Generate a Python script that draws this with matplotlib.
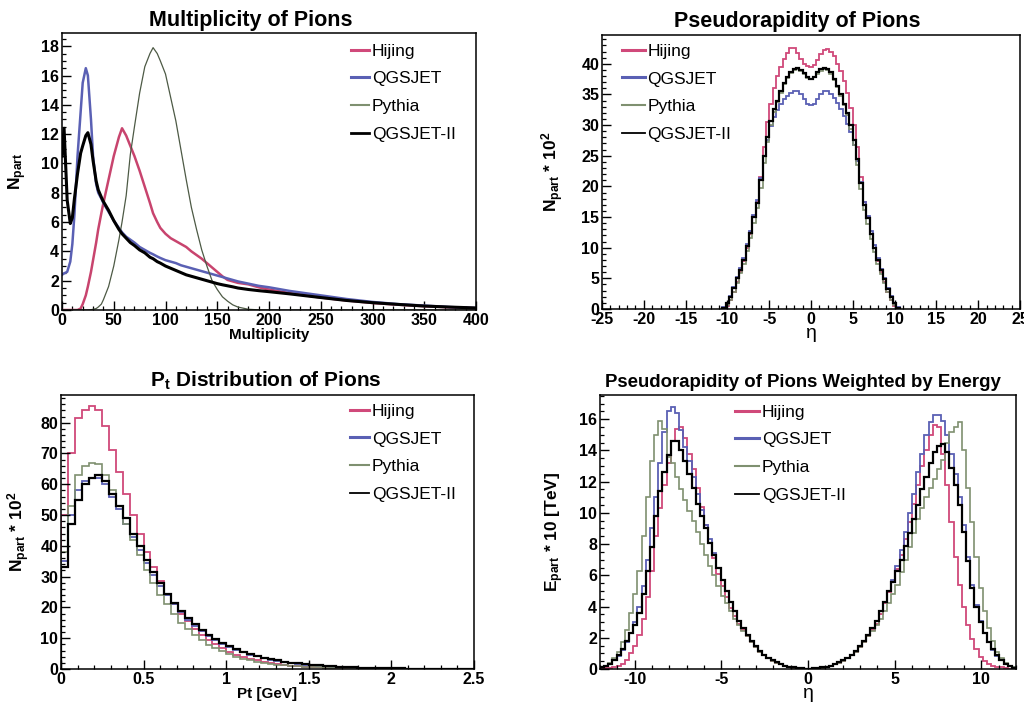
import numpy as np
import matplotlib
matplotlib.use("Agg")
import matplotlib.pyplot as plt
from matplotlib.ticker import MultipleLocator, FuncFormatter
from matplotlib.lines import Line2D

plt.rcParams.update({
    "font.family": ["Liberation Sans", "DejaVu Sans"],
    "axes.unicode_minus": False,
    "mathtext.fontset": "custom",
    "mathtext.rm": "Liberation Sans",
    "mathtext.bf": "Liberation Sans:bold",
    "mathtext.it": "Liberation Sans:italic",
})

labels = ["Hijing", "QGSJET", "Pythia", "QGSJET-II"]
colors = ["#d0497a", "#5a60b4", "#7f9070", "#000000"]

# ---------------- Panel 1 : multiplicity ----------------
mult_x = [0, 2, 5, 8, 10, 12, 15, 18, 20, 23, 25, 28, 30, 33, 35, 38, 40, 45, 50, 55,
          58, 62, 66, 70, 75, 80, 85, 88, 92, 95, 100, 105, 110, 115, 120, 125, 130, 135, 140, 145,
          150, 155, 160, 165, 170, 180, 190, 200, 220, 250, 275, 300, 325, 350, 375, 400]
mult_hijing = [0, 0, 0, 0, 0, 0, 0, 0.1, 0.4, 1.0, 1.6, 2.6, 3.4, 4.6, 5.5, 6.6, 7.3, 8.9, 10.5, 11.8,
               12.4, 11.9, 11.2, 10.5, 9.5, 8.4, 7.3, 6.6, 6.0, 5.6, 5.2, 4.9, 4.7, 4.5, 4.3, 4.0, 3.75, 3.5, 3.2, 2.9,
               2.6, 2.3, 2.05, 1.95, 1.85, 1.75, 1.55, 1.4, 1.15, 0.85, 0.65, 0.48, 0.36, 0.26, 0.18, 0.12]
mult_qgsjet = [2.4, 2.5, 2.6, 3.3, 4.5, 6.5, 10.5, 13.5, 15.5, 16.5, 16.0, 13.0, 10.5, 8.6, 8.0, 7.6, 7.3, 6.7, 6.1, 5.6,
               5.3, 5.0, 4.8, 4.6, 4.3, 4.1, 3.9, 3.8, 3.65, 3.55, 3.4, 3.3, 3.2, 3.05, 2.95, 2.85, 2.75, 2.65, 2.55, 2.45,
               2.35, 2.25, 2.15, 2.05, 1.95, 1.8, 1.65, 1.55, 1.3, 1.0, 0.75, 0.55, 0.4, 0.3, 0.2, 0.13]
mult_pythia = [0, 0, 0, 0, 0, 0, 0, 0, 0, 0, 0, 0.02, 0.05, 0.1, 0.2, 0.4, 0.7, 1.6, 3.0, 4.8,
               6.0, 7.8, 10.6, 12.5, 14.8, 16.6, 17.5, 17.9, 17.5, 17.0, 16.1, 14.5, 12.9, 10.9, 8.9, 7.0, 5.5, 4.1, 3.0, 2.0,
               1.4, 0.9, 0.6, 0.35, 0.2, 0.05, 0.01, 0, 0, 0, 0, 0, 0, 0, 0, 0]
mult_qgsjet2 = [10.5, 12.4, 7.5, 5.9, 6.3, 7.6, 9.3, 10.7, 11.2, 11.9, 12.1, 11.3, 10.2, 8.8, 8.2, 7.7, 7.4, 6.8, 6.1, 5.5,
                5.2, 4.9, 4.6, 4.4, 4.1, 3.9, 3.6, 3.5, 3.3, 3.2, 3.0, 2.85, 2.7, 2.55, 2.4, 2.3, 2.2, 2.1, 2.0, 1.9,
                1.8, 1.72, 1.65, 1.58, 1.5, 1.4, 1.32, 1.25, 1.1, 0.85, 0.65, 0.5, 0.38, 0.27, 0.2, 0.14]

# ---------------- Panel 2 : pseudorapidity (x10^2) ----------------
eta_lo, eta_hi, eta_nbins = -10.6, 10.6, 53
eta_hijing = [0.1, 0.5, 1.4, 2.8, 4.4, 6.0, 7.8, 10.0, 12.3, 15.0,
              17.5, 21.5, 26.5, 30.5, 33.5, 36.0, 38.0, 39.5, 40.8, 41.8,
              42.6, 42.5, 41.8, 40.8, 40.0, 39.6, 39.5, 39.8, 40.6, 41.6,
              42.2, 42.4, 42.0, 41.2, 40.0, 38.8, 37.2, 35.2, 32.8, 30.0,
              26.5, 21.5, 17.5, 15.0, 12.3, 10.0, 7.8, 6.0, 4.4, 2.8,
              1.4, 0.5, 0.1]
eta_qgsjet = [0.25, 1.0, 2.2, 3.6, 5.2, 6.7, 8.4, 10.6, 12.8, 15.4,
              17.8, 21.4, 25.0, 27.6, 29.8, 31.3, 32.4, 33.4, 34.2, 34.8,
              35.3, 35.6, 35.5, 35.0, 34.2, 33.5, 33.2, 33.5, 34.3, 35.0,
              35.5, 35.5, 35.1, 34.5, 33.6, 32.6, 31.5, 30.2, 28.8, 26.8,
              24.2, 20.8, 17.5, 15.2, 12.7, 10.4, 8.3, 6.6, 5.1, 3.5,
              2.2, 1.0, 0.25]
eta_pythia = [0.1, 0.6, 1.5, 2.8, 4.3, 5.8, 7.4, 9.4, 11.6, 14.0,
              16.5, 19.8, 23.8, 27.2, 30.0, 32.2, 33.8, 35.3, 36.7, 37.7,
              38.5, 39.0, 39.1, 38.8, 38.3, 37.7, 37.5, 37.8, 38.4, 38.9,
              39.1, 39.0, 38.4, 37.4, 36.2, 34.8, 33.2, 31.6, 29.4, 26.8,
              23.5, 19.5, 16.2, 13.8, 11.5, 9.3, 7.4, 5.7, 4.2, 2.8,
              1.5, 0.6, 0.1]
eta_qgsjet2 = [0.2, 0.9, 2.0, 3.4, 5.0, 6.4, 8.0, 10.2, 12.4, 15.0,
               17.3, 21.0, 25.0, 28.0, 30.6, 32.6, 34.0, 35.5, 36.8, 37.8,
               38.6, 39.2, 39.3, 39.0, 38.5, 37.8, 37.6, 37.9, 38.6, 39.1,
               39.3, 39.2, 38.6, 37.6, 36.4, 35.0, 33.5, 32.0, 30.0, 27.5,
               24.5, 20.5, 17.0, 14.8, 12.3, 10.0, 8.0, 6.3, 4.9, 3.3,
               2.0, 0.9, 0.2]

# ---------------- Panel 3 : Pt (x10^2) ----------------
pt_lo, pt_hi, pt_nbins = 0.0, 2.5, 60
pt_hijing = [50, 70, 81.5, 84, 85.5, 84, 79, 71, 64, 57,
             50, 44, 38, 33, 28.5, 24.5, 21, 18, 15.5, 13,
             11, 9.5, 8, 6.8, 5.6, 4.7, 3.9, 3.3, 2.8, 2.3,
             1.9, 1.6, 1.35, 1.1, 0.9, 0.75, 0.62, 0.5, 0.42, 0.35,
             0.28, 0.23, 0.19, 0.15, 0.12, 0.1, 0.08, 0.06, 0.05, 0.04,
             0.03, 0.03, 0.02, 0.02, 0.01, 0.01, 0.01, 0.01, 0.0, 0.0]
pt_qgsjet = [35, 50, 58, 61, 62, 62, 60, 56, 52, 47,
             43, 38.5, 34.5, 30.5, 27, 24, 21, 18.5, 16, 14,
             12.3, 10.8, 9.4, 8.2, 7.2, 6.2, 5.4, 4.7, 4.1, 3.5,
             3.0, 2.6, 2.2, 1.9, 1.6, 1.4, 1.2, 1.0, 0.85, 0.72,
             0.6, 0.5, 0.42, 0.35, 0.3, 0.25, 0.2, 0.17, 0.14, 0.12,
             0.1, 0.08, 0.07, 0.06, 0.05, 0.04, 0.03, 0.03, 0.02, 0.02]
pt_pythia = [38, 53, 63, 66, 67, 66.5, 63, 58, 53, 47,
             42, 37, 32, 28, 24, 21, 18, 15, 13, 11,
             9.3, 7.9, 6.7, 5.7, 4.8, 4.0, 3.4, 2.9, 2.4, 2.0,
             1.7, 1.4, 1.2, 1.0, 0.85, 0.7, 0.6, 0.5, 0.42, 0.35,
             0.3, 0.25, 0.2, 0.17, 0.14, 0.12, 0.1, 0.08, 0.07, 0.06,
             0.05, 0.04, 0.03, 0.03, 0.02, 0.02, 0.01, 0.01, 0.01, 0.01]
pt_qgsjet2 = [33, 47, 55, 60, 62, 63, 61, 57, 53, 49,
              44, 40, 35.5, 31.5, 28, 24.5, 21.5, 19, 16.5, 14.5,
              12.7, 11.1, 9.7, 8.5, 7.4, 6.4, 5.6, 4.9, 4.3, 3.7,
              3.2, 2.8, 2.4, 2.1, 1.8, 1.55, 1.35, 1.15, 1.0, 0.85,
              0.72, 0.62, 0.53, 0.45, 0.38, 0.32, 0.27, 0.23, 0.2, 0.17,
              0.14, 0.12, 0.1, 0.08, 0.07, 0.06, 0.05, 0.04, 0.03, 0.02]

# ---------------- Panel 4 : eta weighted by energy (x10 TeV) ----------------
ew_lo, ew_hi, ew_nbins = -12.0, 12.0, 100
ew_hijing_neg = [0.02, 0.05, 0.08, 0.12, 0.2, 0.35, 0.6, 1.0, 1.5, 2.2,
                 3.2, 4.6, 6.3, 8.5, 10.3, 11.8, 13.2, 14.6, 15.4, 15.5,
                 14.8, 13.8, 12.8, 11.6, 10.4, 9.2, 8.1, 7.1, 6.1, 5.3,
                 4.6, 3.9, 3.4, 2.9, 2.5, 2.1, 1.75, 1.4, 1.1, 0.88,
                 0.68, 0.52, 0.4, 0.29, 0.21, 0.14, 0.09, 0.06, 0.04, 0.03]
ew_hijing_pos = [0.03, 0.04, 0.06, 0.09, 0.14, 0.21, 0.29, 0.4, 0.52, 0.68,
                 0.88, 1.1, 1.4, 1.75, 2.1, 2.5, 2.9, 3.5, 4.2, 4.9,
                 5.6, 6.4, 7.3, 8.3, 9.4, 10.6, 11.8, 13.0, 14.0, 15.0,
                 15.6, 15.5, 13.8, 11.8, 9.4, 7.2, 5.4, 4.0, 2.8, 1.9,
                 1.25, 0.8, 0.5, 0.35, 0.22, 0.15, 0.1, 0.06, 0.03, 0.02]
ew_qgsjet_neg = [0.1, 0.2, 0.35, 0.55, 0.85, 1.2, 1.7, 2.3, 3.0, 4.0,
                 5.3, 7.0, 9.0, 11.0, 13.2, 15.2, 16.5, 16.8, 16.4, 15.3,
                 14.2, 13.3, 12.3, 11.2, 10.2, 9.2, 8.3, 7.4, 6.5, 5.7,
                 5.0, 4.3, 3.7, 3.1, 2.6, 2.2, 1.8, 1.45, 1.15, 0.9,
                 0.7, 0.55, 0.42, 0.3, 0.22, 0.15, 0.1, 0.06, 0.04, 0.03]
ew_qgsjet_pos = [0.03, 0.04, 0.06, 0.1, 0.15, 0.22, 0.3, 0.42, 0.55, 0.7,
                 0.9, 1.15, 1.45, 1.8, 2.2, 2.6, 3.1, 3.7, 4.3, 5.0,
                 5.7, 6.6, 7.6, 8.8, 10.0, 11.2, 12.6, 13.8, 15.0, 15.8,
                 16.3, 16.3, 15.9, 15.0, 13.8, 12.5, 11.0, 9.2, 7.2, 5.4,
                 4.1, 3.1, 2.3, 1.7, 1.2, 0.85, 0.55, 0.35, 0.2, 0.1]
ew_pythia_neg = [0.1, 0.2, 0.4, 0.7, 1.1, 1.7, 2.5, 3.6, 4.8, 6.3,
                 8.5, 11.0, 13.3, 15.0, 15.9, 15.4, 13.6, 13.2, 12.3, 11.5,
                 10.8, 10.1, 9.5, 8.8, 8.0, 7.3, 6.6, 6.0, 5.3, 4.7,
                 4.2, 3.7, 3.2, 2.8, 2.45, 2.1, 1.75, 1.4, 1.1, 0.88,
                 0.68, 0.52, 0.4, 0.29, 0.21, 0.14, 0.09, 0.06, 0.04, 0.03]
ew_pythia_pos = [0.03, 0.04, 0.06, 0.09, 0.14, 0.21, 0.29, 0.4, 0.52, 0.68,
                 0.88, 1.1, 1.4, 1.75, 2.1, 2.45, 2.8, 3.2, 3.7, 4.2,
                 4.8, 5.4, 6.2, 7.0, 7.8, 8.7, 9.6, 10.3, 11.0, 11.6,
                 12.2, 12.8, 13.4, 14.5, 15.2, 15.5, 15.8, 14.0, 11.6, 9.4,
                 7.2, 5.2, 3.7, 2.6, 1.8, 1.1, 0.7, 0.4, 0.2, 0.1]
ew_qgsjet2_neg = [0.1, 0.2, 0.35, 0.6, 0.9, 1.3, 1.8, 2.3, 2.8, 3.6,
                  4.8, 6.3, 7.8, 9.8, 11.4, 12.6, 13.7, 14.6, 14.6, 14.0,
                  13.3, 12.5, 11.6, 10.6, 9.8, 9.0, 8.1, 7.3, 6.5, 5.7,
                  5.0, 4.3, 3.7, 3.1, 2.6, 2.2, 1.8, 1.45, 1.15, 0.9,
                  0.7, 0.55, 0.42, 0.3, 0.22, 0.15, 0.1, 0.06, 0.04, 0.03]
ew_qgsjet2_pos = [0.03, 0.04, 0.06, 0.1, 0.15, 0.22, 0.3, 0.42, 0.55, 0.7,
                  0.9, 1.15, 1.45, 1.8, 2.2, 2.6, 3.1, 3.7, 4.3, 5.0,
                  5.6, 6.3, 7.0, 7.9, 8.7, 9.6, 10.5, 11.5, 12.3, 13.2,
                  13.9, 14.3, 14.4, 13.9, 12.9, 11.8, 10.5, 8.8, 6.9, 5.2,
                  4.0, 3.0, 2.3, 1.7, 1.25, 0.9, 0.6, 0.35, 0.2, 0.08]

# ---------------- figure ----------------
W, H = 1024, 711
fig = plt.figure(figsize=(W / 100, H / 100), dpi=100)


def px_axes(l, t, r, b):
    return fig.add_axes([l / W, 1 - b / H, (r - l) / W, (b - t) / H])


def style(ax, xmaj, xmin, ymaj, ymin):
    ax.xaxis.set_major_locator(MultipleLocator(xmaj))
    ax.xaxis.set_minor_locator(MultipleLocator(xmin))
    ax.yaxis.set_major_locator(MultipleLocator(ymaj))
    ax.yaxis.set_minor_locator(MultipleLocator(ymin))
    ax.tick_params(which="both", direction="in", top=False, right=False)
    ax.tick_params(which="major", length=6.5, width=1.0, labelsize=11.5, pad=2)
    ax.tick_params(which="minor", length=3.2, width=0.9)
    ax.xaxis.set_major_formatter(FuncFormatter(lambda v, p: "%g" % round(v, 6)))
    ax.yaxis.set_major_formatter(FuncFormatter(lambda v, p: "%g" % round(v, 6)))
    for s in ax.spines.values():
        s.set_linewidth(1.1)


def bold_ticks(ax):
    for lab in ax.get_xticklabels() + ax.get_yticklabels():
        lab.set_fontweight("bold")


def add_legend(ax, x, y, hl, lws):
    handles = [Line2D([0], [0], color=c, lw=lw) for c, lw in zip(colors, lws)]
    ax.legend(handles, labels, loc="upper left", bbox_to_anchor=(x, y), frameon=False,
              fontsize=12.5, handlelength=hl, handletextpad=0.15, labelspacing=0.72,
              borderpad=0, borderaxespad=0)


# Panel 1
ax1 = px_axes(62, 33, 476, 310)
series1 = [mult_hijing, mult_qgsjet, mult_pythia, mult_qgsjet2]
lws1 = [1.8, 1.8, 0.9, 2.2]
cols1 = ["#c8446e", "#5a60b4", "#4d5a45", "#000000"]
for vals, c, lw in zip(series1, cols1, lws1):
    ax1.plot(mult_x, vals, color=c, lw=lw)
ax1.set_xlim(0, 400)
ax1.set_ylim(0, 18.9)
style(ax1, 50, 10, 2, 0.5)
ax1.set_title("Multiplicity of Pions", fontsize=15.5, fontweight="bold", pad=5, x=0.457)
ax1.set_xlabel("Multiplicity", fontsize=11, fontweight="bold", labelpad=0)
ax1.set_ylabel(r"$\mathbf{N_{part}}$", fontsize=12.5)
ax1.yaxis.set_label_coords(-0.08, 0.5)
add_legend(ax1, 0.698, 0.962, 1.05, [2.2, 2.2, 1.5, 2.0])

# Panel 2
ax2 = px_axes(602, 35, 1020, 309)
eta_edges = np.linspace(eta_lo, eta_hi, eta_nbins + 1)
series2 = [eta_hijing, eta_qgsjet, eta_pythia, eta_qgsjet2]
lws2 = [1.3, 1.3, 1.2, 1.6]
for vals, c, lw in zip(series2, colors, lws2):
    ax2.stairs(vals, eta_edges, color=c, lw=lw, baseline=0)
ax2.set_xlim(-25, 25)
ax2.set_ylim(0, 44.7)
style(ax2, 5, 1, 5, 1)
ax2.set_title("Pseudorapidity of Pions", fontsize=15.5, fontweight="bold", pad=6, x=0.466)
ax2.set_xlabel("η", fontsize=14, labelpad=-1)
ax2.set_ylabel(r"$\mathbf{N_{part}}$ * 10$^{\mathbf{2}}$", fontsize=12.5, fontweight="bold")
ax2.yaxis.set_label_coords(-0.085, 0.5)
add_legend(ax2, 0.048, 0.968, 1.32, [2.2, 2.2, 1.5, 1.3])

# Panel 3
ax3 = px_axes(61, 395, 474, 669)
pt_edges = np.linspace(pt_lo, pt_hi, pt_nbins + 1)
series3 = [pt_hijing, pt_qgsjet, pt_pythia, pt_qgsjet2]
for vals, c, lw in zip(series3, colors, lws2):
    ax3.stairs(vals, pt_edges, color=c, lw=lw, baseline=0)
ax3.set_xlim(0, 2.5)
ax3.set_ylim(0, 89)
style(ax3, 0.5, 0.1, 10, 2)
ax3.set_title(r"$\mathbf{P_t}$ Distribution of Pions", fontsize=15, fontweight="bold", pad=6, x=0.496)
ax3.set_xlabel("Pt [GeV]", fontsize=11, fontweight="bold", labelpad=0)
ax3.set_ylabel(r"$\mathbf{N_{part}}$ * 10$^{\mathbf{2}}$", fontsize=12.5, fontweight="bold")
ax3.yaxis.set_label_coords(-0.07, 0.5)
add_legend(ax3, 0.70, 0.968, 1.1, [2.2, 2.2, 1.5, 1.3])

# Panel 4
ax4 = px_axes(600, 395, 1016, 669)
ew_edges = np.linspace(ew_lo, ew_hi, ew_nbins + 1)
series4 = [ew_hijing_neg + ew_hijing_pos, ew_qgsjet_neg + ew_qgsjet_pos,
           ew_pythia_neg + ew_pythia_pos, ew_qgsjet2_neg + ew_qgsjet2_pos]
for vals, c, lw in zip(series4, colors, lws2):
    ax4.stairs(vals, ew_edges, color=c, lw=lw, baseline=0)
ax4.set_xlim(-12, 12)
ax4.set_ylim(0, 17.55)
style(ax4, 5, 1, 2, 0.5)
ax4.set_title("Pseudorapidity of Pions Weighted by Energy", fontsize=13.4, fontweight="bold", pad=6, x=0.488)
ax4.set_xlabel("η", fontsize=14, labelpad=-1)
ax4.set_ylabel(r"$\mathbf{E_{part}}$ * 10 [TeV]", fontsize=12.5, fontweight="bold")
ax4.yaxis.set_label_coords(-0.082, 0.5)
add_legend(ax4, 0.325, 0.965, 1.38, [2.2, 2.2, 1.5, 1.3])

for ax in (ax1, ax2, ax3, ax4):
    bold_ticks(ax)

fig.savefig("out.png", dpi=100, facecolor="white")
